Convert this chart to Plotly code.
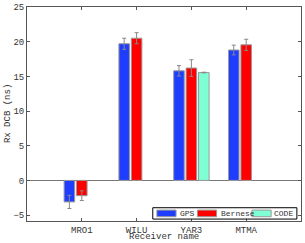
import plotly.graph_objects as go

receivers = ["MRO1", "WILU", "YAR3", "MTMA"]
gps_vals = [-3.1, 19.7, 15.8, 18.8]
gps_err = [0.95, 0.8, 0.75, 0.7]
bernese_vals = [-2.2, 20.5, 16.2, 19.55]
bernese_err = [0.7, 0.8, 1.2, 0.8]
code_vals = [None, None, 15.55, None]
code_err = [0, 0, 0.05, 0]
y_ticks = [-5, 0, 5, 10, 15, 20, 25]
series_names = ["GPS", "Bernese", "CODE"]
series_colors = ["#1f3dff", "#ff0000", "#7fffd4"]

FONT = "Liberation Mono, Courier New, DejaVu Sans Mono, monospace"
GRAY = "#555555"
TXT = "#333333"

fig = go.Figure()
for name, vals, errs, col in zip(series_names, [gps_vals, bernese_vals, code_vals],
                                 [gps_err, bernese_err, code_err], series_colors):
    fig.add_trace(go.Bar(
        x=receivers, y=vals, name=name,
        marker=dict(color=col, line=dict(color="#999999", width=1)),
        error_y=dict(type="data", array=errs, color="#888888", thickness=1, width=2),
    ))

# manual legend (wide swatches like the reference)
shapes = [dict(type="rect", xref="paper", yref="paper", x0=0.459, x1=0.985, y0=0.009, y1=0.062,
               line=dict(color="black", width=1), fillcolor="white", layer="above")]
annotations = []
sw_x = [0.474, 0.622, 0.821]
tx_x = [0.552, 0.699, 0.894]
for i, (name, col) in enumerate(zip(series_names, series_colors)):
    annotations.append(dict(xref="paper", yref="paper", x=tx_x[i], y=0.036, text=name,
                            showarrow=False, xanchor="left", yanchor="middle",
                            font=dict(family=FONT, size=8, color=TXT)))
for i, (name, col) in enumerate(zip(series_names, series_colors)):
    shapes.append(dict(type="rect", xref="paper", yref="paper", x0=sw_x[i], x1=sw_x[i] + 0.07,
                       y0=0.020, y1=0.051, fillcolor=col, line=dict(color="#999999", width=1),
                       layer="above"))

annotations.append(dict(xref="paper", yref="paper", x=0.5, y=-0.103, text="Receiver name",
                        showarrow=False, xanchor="center", yanchor="bottom",
                        font=dict(family=FONT, size=9, color=TXT), borderpad=0))
annotations.append(dict(xref="paper", yref="paper", x=-0.069, y=0.5, text="Rx DCB (ns)",
                        showarrow=False, xanchor="center", yanchor="middle", textangle=-90,
                        font=dict(family=FONT, size=9, color=TXT)))

fig.update_layout(
    width=305, height=243,
    margin=dict(l=27, r=4, t=7, b=22, autoexpand=False),
    plot_bgcolor="white", paper_bgcolor="white",
    barmode="group", bargap=0.32, bargroupgap=0.15,
    font=dict(family=FONT, size=9, color=TXT),
    showlegend=False,
    shapes=shapes, annotations=annotations,
    xaxis=dict(
        range=[-1, 4], showline=True, mirror="ticks", linecolor=GRAY, linewidth=1,
        ticks="inside", ticklen=3, tickcolor=GRAY, showgrid=False, automargin=False,
        tickfont=dict(family=FONT, size=9, color=TXT),
    ),
    yaxis=dict(
        range=[-5.85, 25], tickvals=y_ticks, showline=True, mirror="ticks",
        linecolor=GRAY, linewidth=1, ticks="inside", ticklen=3, tickcolor=GRAY,
        showgrid=False, zeroline=True, zerolinecolor="#777777", zerolinewidth=1,
        automargin=False, tickfont=dict(family=FONT, size=9, color=TXT),
    ),
)

fig.write_html("out.html", config={"displayModeBar": False},
               post_script="document.body.style.margin='0';")
